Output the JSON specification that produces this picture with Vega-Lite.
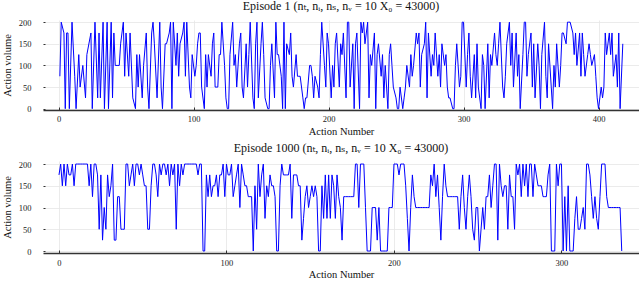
{
  "$schema": "https://vega.github.io/schema/vega-lite/v6.json",
  "padding": {"left": 2, "top": 0, "right": 0, "bottom": 0},
  "spacing": 5,
  "config": {
    "view": {"stroke": null},
    "font": "Liberation Serif, DejaVu Serif, serif",
    "axis": {
      "labelFont": "Liberation Serif, DejaVu Serif, serif",
      "labelFontSize": 8.5,
      "labelColor": "#222222",
      "titleFont": "Liberation Serif, DejaVu Serif, serif",
      "titleFontSize": 10.5,
      "titleFontWeight": "normal",
      "titleColor": "#111111",
      "gridColor": "#e6e6e6",
      "gridWidth": 0.8,
      "tickColor": "#333333",
      "domainColor": "#333333"
    },
    "title": {"font": "Liberation Serif, DejaVu Serif, serif", "fontSize": 12, "fontWeight": "normal", "color": "#111111", "offset": 5, "frame": "group"}
  },
  "datasets": {
    "ep1": [
      {"a":1,"v":75},{"a":2,"v":200},{"a":4,"v":175},{"a":5,"v":0},{"a":6,"v":175},{"a":7,"v":175},{"a":8,"v":0},{"a":10,"v":200},{"a":12,"v":75},{"a":13,"v":0},{"a":15,"v":125},{"a":16,"v":50},{"a":18,"v":100},{"a":20,"v":25},{"a":21,"v":125},{"a":24,"v":175},{"a":25,"v":0},{"a":27,"v":200},{"a":29,"v":25},{"a":30,"v":175},{"a":31,"v":25},{"a":33,"v":200},{"a":34,"v":0},{"a":36,"v":200},{"a":37,"v":0},{"a":39,"v":200},{"a":40,"v":25},{"a":41,"v":175},{"a":42,"v":100},{"a":44,"v":100},{"a":45,"v":100},{"a":46,"v":150},{"a":48,"v":200},{"a":49,"v":75},{"a":50,"v":175},{"a":52,"v":75},{"a":53,"v":175},{"a":55,"v":25},{"a":57,"v":0},{"a":58,"v":125},{"a":59,"v":50},{"a":60,"v":125},{"a":62,"v":25},{"a":63,"v":100},{"a":65,"v":175},{"a":66,"v":50},{"a":67,"v":0},{"a":69,"v":175},{"a":70,"v":200},{"a":71,"v":150},{"a":73,"v":25},{"a":75,"v":200},{"a":76,"v":50},{"a":77,"v":0},{"a":79,"v":150},{"a":80,"v":150},{"a":82,"v":175},{"a":83,"v":200},{"a":84,"v":0},{"a":85,"v":200},{"a":87,"v":100},{"a":88,"v":175},{"a":89,"v":75},{"a":90,"v":150},{"a":92,"v":175},{"a":93,"v":200},{"a":94,"v":75},{"a":95,"v":200},{"a":97,"v":50},{"a":98,"v":25},{"a":99,"v":125},{"a":101,"v":75},{"a":102,"v":100},{"a":103,"v":150},{"a":104,"v":175},{"a":105,"v":175},{"a":106,"v":50},{"a":108,"v":0},{"a":109,"v":125},{"a":110,"v":50},{"a":111,"v":125},{"a":113,"v":75},{"a":114,"v":150},{"a":115,"v":175},{"a":116,"v":50},{"a":118,"v":50},{"a":119,"v":125},{"a":120,"v":125},{"a":121,"v":200},{"a":123,"v":100},{"a":124,"v":25},{"a":125,"v":0},{"a":126,"v":0},{"a":127,"v":125},{"a":129,"v":200},{"a":130,"v":100},{"a":131,"v":125},{"a":132,"v":50},{"a":134,"v":150},{"a":135,"v":175},{"a":136,"v":50},{"a":137,"v":25},{"a":139,"v":150},{"a":140,"v":50},{"a":141,"v":125},{"a":142,"v":200},{"a":144,"v":25},{"a":145,"v":0},{"a":146,"v":150},{"a":147,"v":200},{"a":148,"v":25},{"a":150,"v":150},{"a":151,"v":200},{"a":152,"v":125},{"a":153,"v":25},{"a":155,"v":0},{"a":156,"v":0},{"a":157,"v":100},{"a":158,"v":150},{"a":160,"v":25},{"a":161,"v":200},{"a":162,"v":125},{"a":163,"v":125},{"a":165,"v":75},{"a":166,"v":0},{"a":167,"v":200},{"a":168,"v":0},{"a":169,"v":150},{"a":171,"v":125},{"a":172,"v":175},{"a":173,"v":75},{"a":174,"v":50},{"a":176,"v":125},{"a":177,"v":75},{"a":178,"v":75},{"a":179,"v":75},{"a":181,"v":25},{"a":182,"v":0},{"a":183,"v":25},{"a":184,"v":25},{"a":186,"v":100},{"a":187,"v":100},{"a":188,"v":75},{"a":189,"v":25},{"a":190,"v":75},{"a":192,"v":50},
      {"a":193,"v":25},{"a":194,"v":125},{"a":195,"v":200},{"a":197,"v":100},{"a":198,"v":50},{"a":199,"v":175},{"a":200,"v":150},{"a":202,"v":25},{"a":203,"v":100},{"a":204,"v":50},{"a":205,"v":150},{"a":206,"v":175},{"a":208,"v":50},{"a":209,"v":150},{"a":210,"v":125},{"a":211,"v":175},{"a":213,"v":25},{"a":214,"v":200},{"a":215,"v":200},{"a":216,"v":50},{"a":218,"v":150},{"a":219,"v":0},{"a":220,"v":150},{"a":221,"v":175},{"a":223,"v":0},{"a":224,"v":200},{"a":225,"v":175},{"a":226,"v":200},{"a":227,"v":150},{"a":229,"v":200},{"a":230,"v":25},{"a":231,"v":125},{"a":232,"v":100},{"a":234,"v":175},{"a":235,"v":0},{"a":236,"v":125},{"a":237,"v":150},{"a":239,"v":75},{"a":240,"v":125},{"a":241,"v":25},{"a":242,"v":100},{"a":244,"v":0},{"a":245,"v":125},{"a":246,"v":150},{"a":247,"v":100},{"a":248,"v":50},{"a":250,"v":25},{"a":251,"v":0},{"a":252,"v":0},{"a":253,"v":50},{"a":255,"v":0},{"a":256,"v":25},{"a":257,"v":50},{"a":258,"v":100},{"a":260,"v":50},{"a":261,"v":125},{"a":262,"v":75},{"a":263,"v":100},{"a":265,"v":175},{"a":266,"v":150},{"a":267,"v":175},{"a":268,"v":50},{"a":269,"v":125},{"a":271,"v":150},{"a":272,"v":200},{"a":273,"v":25},{"a":274,"v":175},{"a":276,"v":75},{"a":277,"v":125},{"a":278,"v":100},{"a":279,"v":175},{"a":281,"v":75},{"a":282,"v":125},{"a":283,"v":50},{"a":284,"v":150},{"a":286,"v":100},{"a":287,"v":125},{"a":288,"v":50},{"a":289,"v":25},{"a":290,"v":25},{"a":292,"v":0},{"a":293,"v":0},{"a":294,"v":100},{"a":295,"v":150},{"a":297,"v":50},{"a":298,"v":75},{"a":299,"v":200},{"a":300,"v":200},{"a":302,"v":50},{"a":303,"v":125},{"a":304,"v":175},{"a":305,"v":75},{"a":306,"v":25},{"a":308,"v":125},{"a":309,"v":25},{"a":310,"v":150},{"a":311,"v":50},{"a":313,"v":0},{"a":314,"v":125},{"a":315,"v":100},{"a":316,"v":0},{"a":318,"v":150},{"a":319,"v":25},{"a":320,"v":125},{"a":321,"v":100},{"a":323,"v":175},{"a":324,"v":125},{"a":325,"v":100},{"a":326,"v":150},{"a":327,"v":200},{"a":329,"v":50},{"a":330,"v":25},{"a":331,"v":75},{"a":332,"v":150},{"a":334,"v":200},{"a":335,"v":100},{"a":336,"v":175},{"a":337,"v":50},{"a":339,"v":175},{"a":340,"v":75},{"a":341,"v":125},{"a":342,"v":0},{"a":344,"v":125},{"a":345,"v":200},{"a":346,"v":200},{"a":347,"v":75},{"a":348,"v":125},{"a":350,"v":175},{"a":351,"v":50},{"a":352,"v":150},{"a":353,"v":25},{"a":355,"v":150},{"a":356,"v":100},{"a":357,"v":0},{"a":358,"v":125},{"a":360,"v":200},{"a":361,"v":75},{"a":362,"v":25},{"a":363,"v":150},{"a":365,"v":50},{"a":366,"v":0},{"a":367,"v":100},{"a":368,"v":50},{"a":369,"v":150},{"a":371,"v":50},{"a":372,"v":100},{"a":373,"v":175},{"a":374,"v":175},{"a":376,"v":150},{"a":377,"v":200},{"a":378,"v":200},{"a":379,"v":200},{"a":381,"v":175},{"a":382,"v":125},{"a":383,"v":175},{"a":384,"v":100},{"a":386,"v":175},{"a":387,"v":75},{"a":388,"v":175},{"a":389,"v":125},{"a":390,"v":75},{"a":392,"v":125},{"a":393,"v":150},{"a":394,"v":125},{"a":395,"v":100},{"a":397,"v":125},{"a":398,"v":75},{"a":399,"v":25},{"a":400,"v":0},{"a":402,"v":50},{"a":403,"v":25},{"a":404,"v":50},{"a":405,"v":175},{"a":406,"v":125},{"a":408,"v":175},{"a":409,"v":125},{"a":410,"v":175},{"a":411,"v":75},{"a":413,"v":125},{"a":414,"v":50},{"a":415,"v":175},{"a":416,"v":0},{"a":418,"v":150}
    ],
    "ep1000": [
      {"a":0,"v":175},{"a":1,"v":200},{"a":2,"v":150},{"a":3,"v":200},{"a":4,"v":150},{"a":5,"v":200},{"a":6,"v":175},{"a":7,"v":175},{"a":8,"v":200},{"a":9,"v":150},{"a":10,"v":200},{"a":11,"v":200},{"a":12,"v":200},{"a":13,"v":200},{"a":14,"v":200},{"a":15,"v":200},{"a":16,"v":200},{"a":17,"v":200},{"a":18,"v":150},{"a":19,"v":200},{"a":20,"v":125},{"a":21,"v":200},{"a":22,"v":200},{"a":23,"v":175},{"a":24,"v":50},{"a":25,"v":175},{"a":26,"v":25},{"a":27,"v":100},{"a":28,"v":50},{"a":29,"v":175},{"a":30,"v":125},{"a":31,"v":150},{"a":32,"v":200},{"a":33,"v":25},{"a":34,"v":25},{"a":35,"v":125},{"a":36,"v":125},{"a":37,"v":50},{"a":38,"v":50},{"a":39,"v":50},{"a":40,"v":200},{"a":41,"v":200},{"a":42,"v":150},{"a":43,"v":175},{"a":44,"v":200},{"a":45,"v":150},{"a":46,"v":200},{"a":47,"v":200},{"a":48,"v":175},{"a":49,"v":200},{"a":50,"v":175},{"a":51,"v":150},{"a":52,"v":150},{"a":53,"v":50},{"a":54,"v":50},{"a":55,"v":150},{"a":56,"v":200},{"a":57,"v":200},{"a":58,"v":175},{"a":59,"v":125},{"a":60,"v":200},{"a":61,"v":175},{"a":62,"v":200},{"a":63,"v":200},{"a":64,"v":175},{"a":65,"v":200},{"a":66,"v":150},{"a":67,"v":200},{"a":68,"v":175},{"a":69,"v":200},{"a":70,"v":50},{"a":71,"v":200},{"a":72,"v":150},{"a":73,"v":200},{"a":74,"v":175},{"a":75,"v":200},{"a":76,"v":200},{"a":77,"v":200},{"a":78,"v":200},{"a":79,"v":200},{"a":80,"v":200},{"a":81,"v":200},{"a":82,"v":200},{"a":83,"v":175},{"a":84,"v":200},{"a":85,"v":200},{"a":86,"v":0},{"a":87,"v":0},{"a":88,"v":175},{"a":89,"v":125},{"a":90,"v":175},{"a":91,"v":125},{"a":92,"v":150},{"a":93,"v":150},{"a":94,"v":175},{"a":95,"v":125},{"a":96,"v":175},{"a":97,"v":175},{"a":98,"v":200},{"a":99,"v":125},{"a":100,"v":200},{"a":101,"v":175},{"a":102,"v":175},{"a":103,"v":200},{"a":104,"v":125},{"a":105,"v":150},{"a":106,"v":175},{"a":107,"v":200},{"a":108,"v":100},{"a":109,"v":200},{"a":110,"v":175},{"a":111,"v":150},{"a":112,"v":150},{"a":113,"v":125},{"a":114,"v":125},{"a":115,"v":125},{"a":116,"v":0},{"a":117,"v":150},{"a":118,"v":50},{"a":119,"v":200},{"a":120,"v":125},{"a":121,"v":175},{"a":122,"v":200},{"a":123,"v":75},{"a":124,"v":150},{"a":125,"v":125},{"a":126,"v":175},{"a":127,"v":150},{"a":128,"v":150},{"a":129,"v":125},{"a":130,"v":0},{"a":131,"v":0},{"a":132,"v":150},{"a":133,"v":200},{"a":134,"v":175},{"a":135,"v":175},{"a":136,"v":175},{"a":137,"v":175},{"a":138,"v":200},{"a":139,"v":75},{"a":140,"v":175},{"a":141,"v":175},{"a":142,"v":175},{"a":143,"v":150},{"a":144,"v":150},{"a":145,"v":25},{"a":146,"v":75},{"a":147,"v":125},{"a":148,"v":150},{"a":149,"v":100},{"a":150,"v":125},{"a":151,"v":150},{"a":152,"v":125},{"a":153,"v":150},{"a":154,"v":125},{"a":155,"v":0},{"a":156,"v":0},{"a":157,"v":150},{"a":158,"v":75},{"a":159,"v":175},{"a":160,"v":75},{"a":161,"v":175},{"a":162,"v":75},{"a":163,"v":175},{"a":164,"v":150},{"a":165,"v":75},{"a":166,"v":175},{"a":167,"v":125},{"a":168,"v":100},{"a":169,"v":25},{"a":170,"v":125},{"a":171,"v":125},{"a":172,"v":125},{"a":173,"v":125},{"a":174,"v":125},{"a":175,"v":125},{"a":176,"v":125},{"a":177,"v":200},{"a":178,"v":200},{"a":179,"v":100},{"a":180,"v":200},{"a":181,"v":200},{"a":182,"v":200},{"a":183,"v":100},{"a":184,"v":0},{"a":185,"v":0},{"a":186,"v":0},{"a":187,"v":100},{"a":188,"v":100},{"a":189,"v":100},{"a":190,"v":25},{"a":191,"v":100},{"a":192,"v":0},{"a":193,"v":0},{"a":194,"v":0},{"a":195,"v":0},{"a":196,"v":0},{"a":197,"v":100},{"a":198,"v":100},{"a":199,"v":100},{"a":200,"v":200},{"a":201,"v":200},{"a":202,"v":200},{"a":203,"v":175},{"a":204,"v":200},{"a":205,"v":200},{"a":206,"v":200},{"a":207,"v":150},{"a":208,"v":75},{"a":209,"v":0},{"a":210,"v":100},{"a":211,"v":175},{"a":212,"v":125},{"a":213,"v":100},{"a":214,"v":100},{"a":215,"v":100},{"a":216,"v":100},{"a":217,"v":100},{"a":218,"v":100},{"a":219,"v":100},{"a":220,"v":100},{"a":221,"v":100},{"a":222,"v":175},{"a":223,"v":150},{"a":224,"v":200},{"a":225,"v":125},{"a":226,"v":175},{"a":227,"v":100},{"a":228,"v":25},{"a":229,"v":125},{"a":230,"v":200},{"a":231,"v":150},{"a":232,"v":125},{"a":233,"v":125},{"a":234,"v":125},{"a":235,"v":125},{"a":236,"v":125},{"a":237,"v":125},{"a":238,"v":125},{"a":239,"v":50},{"a":240,"v":125},{"a":241,"v":175},{"a":242,"v":100},{"a":243,"v":50},{"a":244,"v":125},{"a":245,"v":175},{"a":246,"v":125},{"a":247,"v":50},{"a":248,"v":25},{"a":249,"v":100},{"a":250,"v":100},{"a":251,"v":0},{"a":252,"v":50},{"a":253,"v":100},{"a":254,"v":50},{"a":255,"v":125},{"a":256,"v":125},{"a":257,"v":175},{"a":258,"v":100},{"a":259,"v":150},{"a":260,"v":200},{"a":261,"v":200},{"a":262,"v":25},{"a":263,"v":200},{"a":264,"v":150},{"a":265,"v":125},{"a":266,"v":150},{"a":267,"v":150},{"a":268,"v":50},{"a":269,"v":175},{"a":270,"v":125},{"a":271,"v":125},{"a":272,"v":50},{"a":273,"v":200},{"a":274,"v":175},{"a":275,"v":200},{"a":276,"v":125},{"a":277,"v":200},{"a":278,"v":150},{"a":279,"v":200},{"a":280,"v":125},{"a":281,"v":200},{"a":282,"v":200},{"a":283,"v":125},{"a":284,"v":200},{"a":285,"v":175},{"a":286,"v":150},{"a":287,"v":150},{"a":288,"v":150},{"a":289,"v":125},{"a":290,"v":125},{"a":291,"v":125},{"a":292,"v":175},{"a":293,"v":200},{"a":294,"v":0},{"a":295,"v":0},{"a":296,"v":0},{"a":297,"v":200},{"a":298,"v":150},{"a":299,"v":200},{"a":300,"v":200},{"a":301,"v":0},{"a":302,"v":125},{"a":303,"v":0},{"a":304,"v":150},{"a":305,"v":0},{"a":306,"v":0},{"a":307,"v":0},{"a":308,"v":75},{"a":309,"v":125},{"a":310,"v":50},{"a":311,"v":50},{"a":312,"v":75},{"a":313,"v":100},{"a":314,"v":50},{"a":315,"v":200},{"a":316,"v":200},{"a":317,"v":175},{"a":318,"v":125},{"a":319,"v":75},{"a":320,"v":125},{"a":321,"v":75},{"a":322,"v":50},{"a":323,"v":125},{"a":324,"v":200},{"a":325,"v":200},{"a":326,"v":200},{"a":327,"v":125},{"a":328,"v":100},{"a":329,"v":100},{"a":330,"v":100},{"a":331,"v":100},{"a":332,"v":100},{"a":333,"v":100},{"a":334,"v":100},{"a":335,"v":100},{"a":336,"v":0}
    ]
  },
  "vconcat": [
    {
      "width": 596,
      "height": 90,
      "title": {"text": "Episode 1 (nₜ, nᵢ, nₛ, nᵥ = 10  X₀ = 43000)"},
      "data": {"name": "ep1"},
      "mark": {"type": "line", "color": "#0000ff", "strokeWidth": 1},
      "encoding": {
        "x": {"field": "a", "type": "quantitative", "scale": {"domain": [-11.5, 430], "nice": false, "zero": false},
              "axis": {"values": [0, 100, 200, 300, 400], "title": "Action Number", "domainWidth": 1.3, "tickSize": -3, "labelPadding": 7, "titlePadding": 4}},
        "y": {"field": "v", "type": "quantitative", "scale": {"domain": [-3, 205], "nice": false},
              "axis": {"values": [0, 50, 100, 150, 200], "title": "Action volume", "domain": false, "tickSize": -2, "labelPadding": 14, "titlePadding": 6}}
      }
    },
    {
      "width": 596,
      "height": 92,
      "title": {"text": "Episode 1000 (nₜ, nᵢ, nₛ, nᵥ = 10  X₀ = 43000)"},
      "data": {"name": "ep1000"},
      "mark": {"type": "line", "color": "#0000ff", "strokeWidth": 1},
      "encoding": {
        "x": {"field": "a", "type": "quantitative", "scale": {"domain": [-9.55, 346.3], "nice": false, "zero": false},
              "axis": {"values": [0, 100, 200, 300], "title": "Action Number", "domainWidth": 1.3, "tickSize": -3, "labelPadding": 8, "titlePadding": 3}},
        "y": {"field": "v", "type": "quantitative", "scale": {"domain": [-4.6, 207], "nice": false},
              "axis": {"values": [0, 50, 100, 150, 200], "title": "Action volume", "domain": false, "tickSize": -2, "labelPadding": 14, "titlePadding": 6}}
      }
    }
  ]
}
